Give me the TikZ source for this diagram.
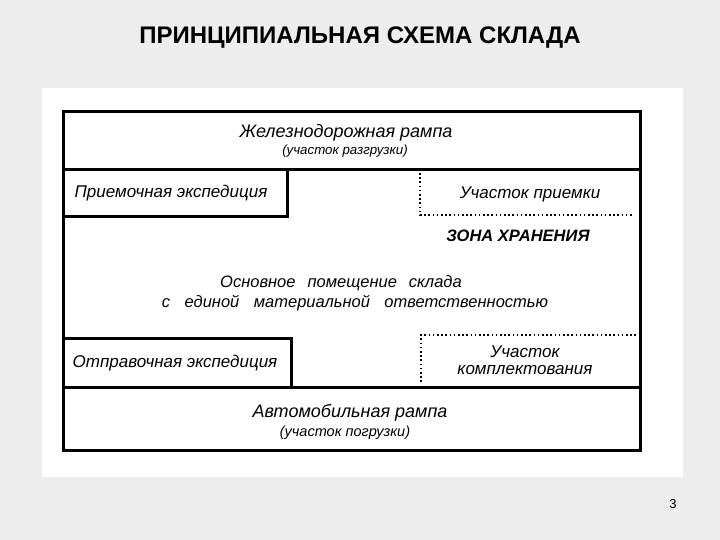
\documentclass[tikz,border=0pt]{standalone}
\usepackage{fontspec}
\setmainfont{Liberation Sans}
\begin{document}
\begin{tikzpicture}[x=1pt,y=-1pt,
  frame/.style={line width=3pt,line cap=rect},
  dotline/.style={line width=2pt,dash pattern=on 1.6pt off 2.6pt},
  lbl/.style={inner sep=0pt,font=\itshape\fontsize{17}{19}\selectfont},
  sub/.style={inner sep=0pt,font=\itshape\fontsize{13.3}{15}\selectfont},
  big/.style={inner sep=0pt,font=\itshape\fontsize{18}{20}\selectfont}]
\useasboundingbox (0,0) rectangle (720,540);
\fill[gray!14] (0,0) rectangle (720,540);
\fill[white] (42,88) rectangle (683,477);
\node[inner sep=0pt,font=\bfseries\fontsize{24}{27}\selectfont] (title) at (360,38) {ПРИНЦИПИАЛЬНАЯ СХЕМА СКЛАДА};
\node[inner sep=0pt,font=\fontsize{13}{15}\selectfont] (page) at (673,504) {3};
% frame
\draw[frame] (63,112) rectangle (640,450);
\draw[frame] (63,170) -- (640,170);
\draw[frame] (63,217) -- (287,217) -- (287,170);
\draw[frame] (63,338) -- (291,338) -- (291,387);
\draw[frame] (63,387) -- (640,387);
% dotted areas
\draw[dotline] (420,173) -- (420,215) -- (634,215);
\draw[dotline] (636,335) -- (421,335) -- (421,384);
% texts
\node[big] (rail) at (346,133) {Железнодорожная рампа};
\node[sub] (railsub) at (345,151) {(участок разгрузки)};
\node[lbl] (recv) at (171,193) {Приемочная экспедиция};
\node[lbl] (accept) at (530,194) {Участок приемки};
\node[inner sep=0pt,font=\bfseries\itshape\fontsize{16.5}{19}\selectfont] (zone) at (518,236) {ЗОНА ХРАНЕНИЯ};
\node[lbl,font=\itshape\fontsize{16.5}{19}\selectfont] (main1) at (341,283) {Основное\hspace{0.45em} помещение\hspace{0.45em} склада};
\node[lbl,font=\itshape\fontsize{16.5}{19}\selectfont] (main2) at (355,303) {с\hspace{0.6em} единой\hspace{0.6em} материальной\hspace{0.6em} ответственностью};
\node[lbl] (send) at (175,363) {Отправочная экспедиция};
\node[lbl,align=center,font=\itshape\fontsize{17}{17}\selectfont] (pick) at (525,360) {Участок\\комплектования};
\node[big] (auto) at (350,413) {Автомобильная рампа};
\node[sub,font=\itshape\fontsize{14.5}{16}\selectfont] (autosub) at (345,433) {(участок погрузки)};
\end{tikzpicture}
\end{document}
